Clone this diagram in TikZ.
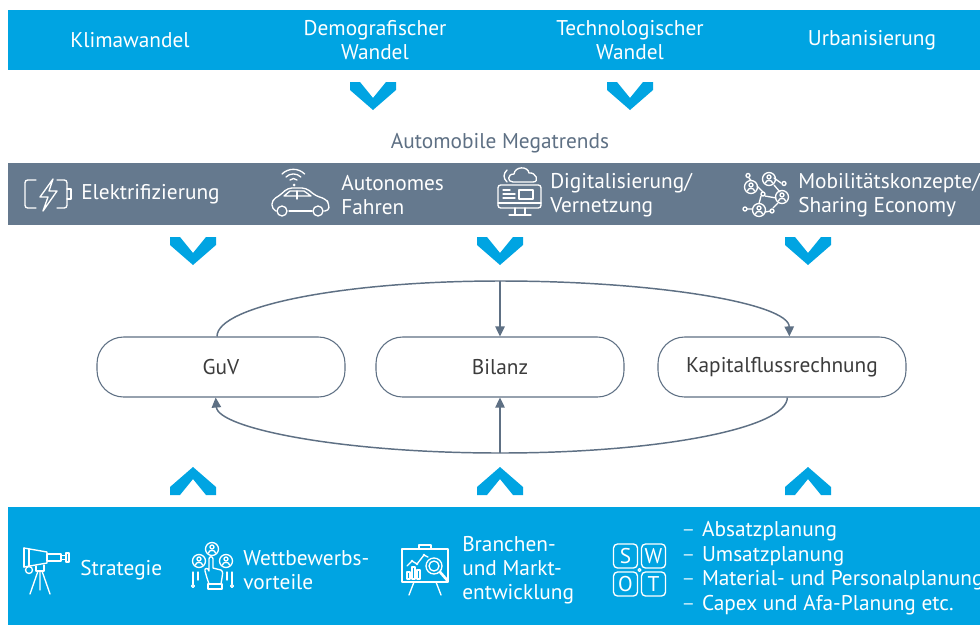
\documentclass[tikz,border=0pt]{standalone}
\usepackage{fontspec}
\setmainfont{PT Sans}
\usetikzlibrary{calc,positioning,arrows.meta}

\definecolor{bandblue}{RGB}{0,164,226}
\definecolor{bandslate}{RGB}{101,121,142}
\definecolor{linegrey}{RGB}{94,112,132}
\definecolor{txtgrey}{RGB}{60,60,60}

\begin{document}
\begin{tikzpicture}[
        x=0.75pt,y=-0.75pt,
        every node/.append style={font=\fontsize{16}{18}\selectfont,inner sep=0pt},
        bandtxt/.style={white,align=center},
        sidetxt/.style={white,anchor=west,align=left},
        stmt/.style={draw=linegrey,line width=0.8pt,fill=white,text=txtgrey,
            rounded corners=20pt,minimum width=186pt,minimum height=45pt},
        link/.style={linegrey,line width=1.1pt,-{Triangle[length=7.5pt,width=7pt]}},
        icon/.style={white,line width=1pt,line join=round,line cap=round},
        swotbox/.style={draw=white,line width=1pt,rounded corners=3pt,
            minimum size=18pt,white},
        chevdown/.pic={\fill[bandblue] (-23,0) -- (-13,0) -- (0,16) -- (13,0)
            -- (23,0) -- (23,8) -- (0,28) -- (-23,8) -- cycle;},
        chevup/.pic={\fill[bandblue] (-23,28) -- (-13,28) -- (0,12) -- (13,28)
            -- (23,28) -- (23,20) -- (0,0) -- (-23,20) -- cycle;},
        persring/.pic={\draw[icon] (0,0) circle (6.5);
            \draw[icon] (0,-2) circle (2);
            \draw[icon] (-3.5,4) .. controls (-3.5,0.5) and (3.5,0.5) .. (3.5,4);}
    ]
    \clip (0,0) rectangle (980,625);
    \fill[white] (0,0) rectangle (980,625);

    % external drivers
    \fill[bandblue] (8,10) rectangle (980,70);
    \node[bandtxt] (klima) at (130,40) {Klimawandel};
    \node[bandtxt] (demo) at (375,40) {Demografischer\\Wandel};
    \node[bandtxt] (techno) at (630,40) {Technologischer\\Wandel};
    \node[bandtxt] (urban) at (872,40) {Urbanisierung};
    \pic at (373,82) {chevdown};
    \pic at (630,82) {chevdown};

    % megatrends
    \node[text=linegrey] (mega) at (500,143) {Automobile Megatrends};
    \fill[bandslate] (8,163) rectangle (980,225);
    \node[sidetxt] (elektro) at (81,194) {Elektrifizierung};
    \node[sidetxt] (autonom) at (341,195) {Autonomes\\Fahren};
    \node[sidetxt] (digital) at (550,195) {Digitalisierung/\\Vernetzung};
    \node[sidetxt] (mobil) at (798,195) {Mobilitätskonzepte/\\Sharing Economy};

    % battery
    \draw[icon,rounded corners=2pt] (36,180) -- (25,180) -- (25,208) -- (36,208);
    \draw[icon,rounded corners=2pt] (57,180) -- (67,180) -- (67,208) -- (57,208);
    \draw[icon] (67,189) -- (71,189) -- (71,199) -- (67,199);
    \draw[icon] (53,179) -- (40,197) -- (48,197) -- (43,211) -- (57,191)
        -- (49,191) -- cycle;
    % car
    \draw[icon] (290,180) arc[start angle=225,end angle=315,radius=5];
    \draw[icon] (286,177) arc[start angle=225,end angle=315,radius=10.5];
    \draw[icon] (282,174) arc[start angle=225,end angle=315,radius=16];
    \fill[white] (294,185) circle (1.5);
    \draw[icon,rounded corners=3pt] (276,211) -- (272,209) -- (272,200) -- (279,196)
        -- (288,188) -- (306,188) -- (316,196) -- (326,199) -- (329,204)
        -- (329,211) -- (324,211);
    \draw[icon] (289,211) -- (312,211);
    \draw[icon] (282,211) circle (5);
    \draw[icon] (318,211) circle (5);
    \draw[icon] (284,196) -- (290,191) -- (304,191) -- (311,196) -- cycle;
    \draw[icon] (297,191) -- (297,199);
    % monitor
    \draw[icon] (507,170) .. controls (503,174) and (503,178) .. (507,182);
    \draw[icon] (513,182) .. controls (507,182) and (507,174) .. (514,174)
        .. controls (515,166) and (528,166) .. (529,173)
        .. controls (536,172) and (540,182) .. (533,182) -- cycle;
    \draw[icon,rounded corners=2pt] (498,185) rectangle (541,208);
    \draw[icon] (503,190) -- (510,190) (503,194) -- (515,194) (503,198) -- (515,198);
    \draw[icon] (519,190) rectangle (533,199);
    \draw[icon] (498,203) -- (541,203);
    \draw[icon] (515,208) -- (515,214) (525,208) -- (525,214) (509,215) -- (531,215);
    % network of people
    \draw[icon] (749,178) -- (751,180.5) (757,186) -- (763,192) (774,185) -- (780,192)
        (774,178) -- (781,183) (765,196) -- (776,198) (761,196) -- (759,203.5)
        (747,209) -- (752.5,209) (765,212) -- (771,211) (778,203) -- (773,208);
    \draw[icon] (748,175.5) circle (2);
    \draw[icon] (784,183.5) circle (2);
    \draw[icon] (763,194) circle (2);
    \draw[icon] (745,209) circle (2);
    \draw[icon] (772,211) circle (2);
    \pic at (751,187) {persring};
    \pic at (769,179) {persring};
    \pic at (782,197) {persring};
    \pic at (759,210) {persring};

    \pic at (193,237) {chevdown};
    \pic at (500,237) {chevdown};
    \pic at (808,237) {chevdown};

    % statements
    \node[stmt] (guv) at (221,367) {GuV};
    \node[stmt] (bilanz) at (500,367) {Bilanz};
    \node[stmt] (kap) at (782,367) {Kapitalflussrechnung};
    \coordinate (topmid) at (500,281);
    \coordinate (botmid) at (500,453);
    \draw[link,-] ([xshift=-3pt]guv.north) .. controls (217,306) and (344,281) .. (topmid);
    \draw[link] (topmid) .. controls (660,281) and (789,304) .. ([xshift=5.5pt]kap.north);
    \draw[link] (topmid) -- (bilanz.north);
    \draw[link,-] ([xshift=4pt]kap.south) .. controls (787,428) and (660,453) .. (botmid);
    \draw[link] (botmid) .. controls (340,453) and (218,428) .. ([xshift=-4pt]guv.south);
    \draw[link] (botmid) -- (bilanz.south);

    \pic at (193,467) {chevup};
    \pic at (500,467) {chevup};
    \pic at (808,467) {chevup};

    % planning inputs
    \fill[bandblue] (8,507) rectangle (980,625);
    \node[sidetxt] (strat) at (80,570) {Strategie};
    \node[sidetxt] (wettb) at (243,570) {Wettbewerbs-\\vorteile};
    \node[sidetxt] (branche) at (462,570) {Branchen-\\und Markt-\\entwicklung};
    \node[sidetxt,font=\fontsize{16}{18.5}\selectfont] (plan) at (681,568)
        {{\color{white!75!bandblue}–}\hspace{5pt}Absatzplanung\\
         {\color{white!75!bandblue}–}\hspace{5pt}Umsatzplanung\\
         {\color{white!75!bandblue}–}\hspace{5pt}Material- und Personalplanung\\
         {\color{white!75!bandblue}–}\hspace{5pt}Capex und Afa-Planung etc.};

    % telescope
    \draw[icon] (24,548) -- (47,552) -- (47,563) -- (24,567) -- cycle;
    \draw[icon] (24,548) -- (24,567) (29,549) -- (29,566);
    \draw[icon] (47,554) rectangle (61,561);
    \draw[icon] (61,555.5) rectangle (66,559.5);
    \draw[icon] (66,553) rectangle (69,562);
    \draw[icon] (29,570) circle (3.5);
    \draw[icon] (36,566) -- (36,571) -- (44,571) -- (44,565);
    \draw[icon] (38,571) -- (30,594) (42,571) -- (50,594) (40,571) -- (40,590);
    % hand with people
    \pic at (199,561) {persring};
    \pic at (212,549) {persring};
    \pic at (226,561) {persring};
    \draw[icon] (209,584) -- (207,578) -- (205,571) .. controls (204,568) and (208,567) .. (209,571)
        -- (209,559) .. controls (209,556) and (213,556) .. (213,559) -- (213,568)
        -- (221,570) .. controls (223,571) and (223,575) .. (222,578) -- (221,584);
    \draw[icon] (208,584) rectangle (222,589);
    \draw[icon] (193,572) -- (193,584) (232,572) -- (232,584);
    \draw[icon] (193,586) circle (1.5) (232,586) circle (1.5);
    \draw[icon] (198,572) -- (198,580) (227,572) -- (227,580);
    % chart board
    \draw[icon] (402,549) rectangle (448,582);
    \draw[icon] (419,549) -- (419,545) -- (431,545) -- (431,549);
    \draw[icon] (414,582) -- (409,595) (436,582) -- (441,595);
    \draw[icon] (407,579) rectangle (410,572) (412,579) rectangle (415,567)
        (417,579) rectangle (420,570);
    \draw[icon] (407,566) -- (412,561) -- (417,564) -- (424,555) -- (428,557);
    \fill[white] (412,561) circle (1.3) (417,564) circle (1.3) (424,555) circle (1.3);
    \draw[icon,fill=bandblue] (434,566) circle (8);
    \draw[icon] (434,566) circle (5);
    \draw[icon,line width=2pt] (440,572) -- (447,580);
    % swot
    \node[swotbox] (swots) at (625.5,556) {S};
    \node[swotbox] (swotw) at (653.5,556) {W};
    \node[swotbox] (swoto) at (625.5,584) {O};
    \node[swotbox] (swott) at (653.5,584) {T};
    \draw[icon] (639.5,570) circle (1.5);
\end{tikzpicture}
\end{document}
